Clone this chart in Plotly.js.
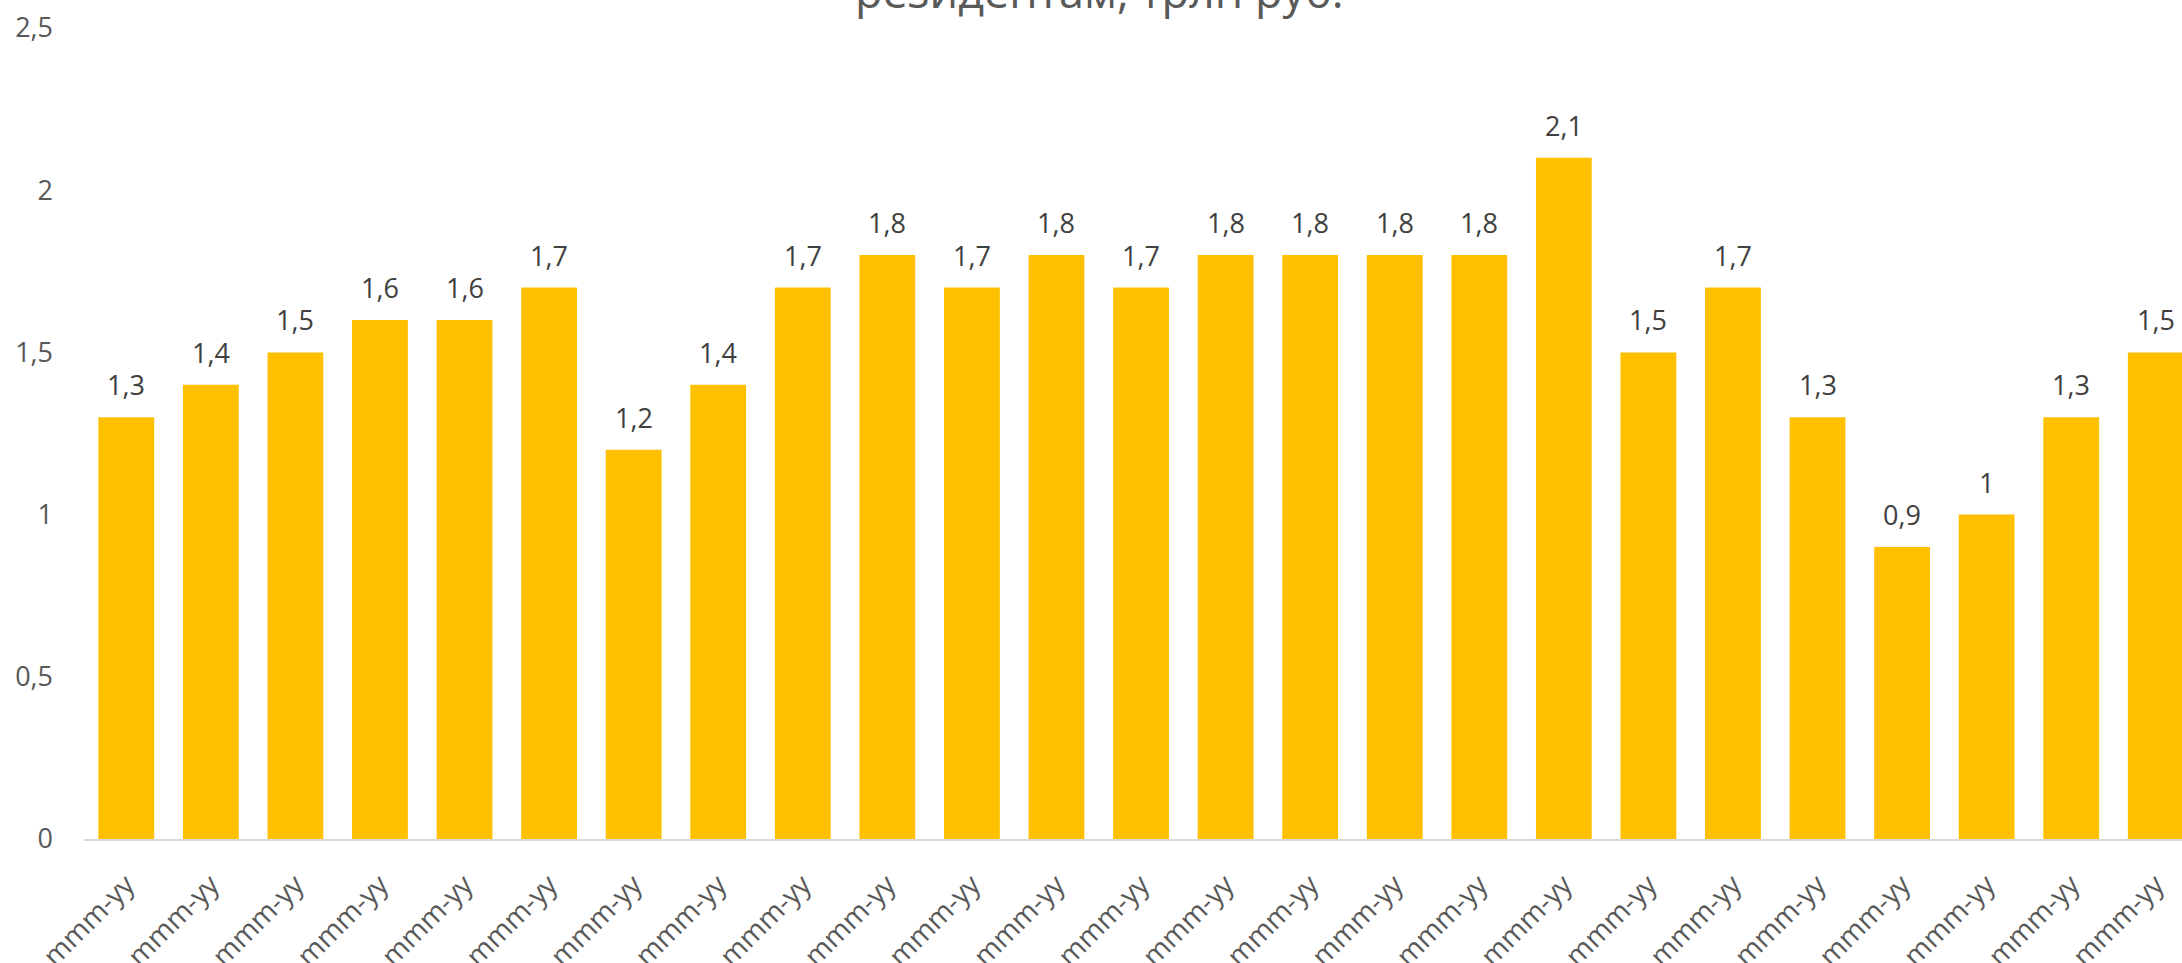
<!DOCTYPE html>
<html>
<head>
<meta charset="utf-8">
<script src="https://cdn.plot.ly/plotly-3.0.1.min.js"></script>
<style>
  html, body { margin: 0; padding: 0; background: #ffffff; }
  #chart { width: 2182px; height: 963px; }
</style>
</head>
<body>
<div id="chart"></div>
<script>
// Data
var categories = ["mmm-yy","mmm-yy","mmm-yy","mmm-yy","mmm-yy","mmm-yy","mmm-yy","mmm-yy","mmm-yy","mmm-yy",
                  "mmm-yy","mmm-yy","mmm-yy","mmm-yy","mmm-yy","mmm-yy","mmm-yy","mmm-yy","mmm-yy","mmm-yy",
                  "mmm-yy","mmm-yy","mmm-yy","mmm-yy","mmm-yy"];
var values = [1.3, 1.4, 1.5, 1.6, 1.6, 1.7, 1.2, 1.4, 1.7, 1.8,
              1.7, 1.8, 1.7, 1.8, 1.8, 1.8, 1.8, 2.1, 1.5, 1.7,
              1.3, 0.9, 1.0, 1.3, 1.5];
var yTickVals = [0, 0.5, 1, 1.5, 2, 2.5];
var titleText = "резидентам, трлн руб.";

var positions = categories.map(function (c, i) { return i; });
var labels = values.map(function (v) { return String(v).replace('.', ','); });

var fontFamily = "'Open Sans', 'Noto Sans', sans-serif";

var trace = {
  type: 'bar',
  x: positions,
  y: values,
  marker: { color: '#FFC000', line: { width: 0 } },
  hoverinfo: 'skip'
};

var annotations = positions.map(function (p, i) {
  return {
    x: p, y: values[i], xref: 'x', yref: 'y',
    text: labels[i], showarrow: false,
    yanchor: 'bottom', yshift: 12,
    font: { family: fontFamily, size: 27, color: '#404040' }
  };
});

annotations.push({
  xref: 'paper', yref: 'paper', x: 0.484, y: 1.0, yanchor: 'bottom', yshift: 5,
  text: titleText, showarrow: false,
  font: { family: fontFamily, size: 45, color: '#595959' }
});

var layout = {
  width: 2182, height: 963,
  margin: { l: 84, r: 0, t: 28, b: 124, pad: 0 },
  paper_bgcolor: '#ffffff', plot_bgcolor: '#ffffff',
  separators: ', ',
  showlegend: false,
  bargap: 0.34,
  xaxis: {
    range: [-0.5, 24.31],
    tickmode: 'array', tickvals: positions, ticktext: categories,
    tickangle: -45,
    showgrid: false, zeroline: false,
    showline: true, linecolor: '#D9D9D9', linewidth: 2,
    ticks: '', ticklabelstandoff: 16,
    tickfont: { family: fontFamily, size: 28, color: '#595959' },
    fixedrange: true
  },
  yaxis: {
    range: [0, 2.5],
    tickmode: 'array', tickvals: yTickVals,
    ticktext: yTickVals.map(function (v) { return String(v).replace('.', ','); }),
    showgrid: false, zeroline: false, showline: false,
    ticks: '', ticklabelstandoff: 30,
    tickfont: { family: fontFamily, size: 27, color: '#595959' },
    fixedrange: true
  },
  annotations: annotations
};

Plotly.newPlot('chart', [trace], layout, { displayModeBar: false, staticPlot: true });
</script>
</body>
</html>
